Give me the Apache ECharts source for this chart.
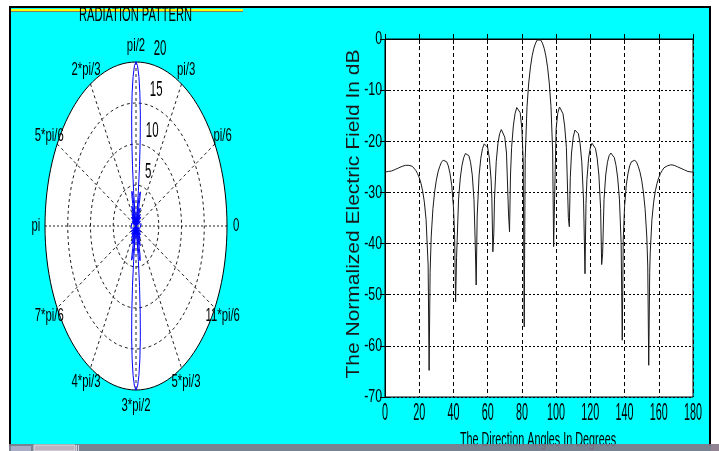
<!DOCTYPE html>
<html><head><meta charset="utf-8">
<script src="https://cdn.jsdelivr.net/npm/echarts@6/dist/echarts.min.js"></script>
<style>html,body{margin:0;padding:0;background:#fff;}#c{width:719px;height:451px;}</style>
</head><body><div id="c"></div>
<script>
// ---- data ----
const angleDeg = [
  0,1,2,3,4,5,6,7,8,9,10,11,12,13,14,15,16,17,18,19,20,21,22,23,24,25.21,25.78,26.36,
  27,28,29,30,31,32,33,34,35,36,37,38,39,40,40.68,41.25,41.83,
  43,44,45,46,47,48,49,50,51,52,52.71,53.29,53.87,
  55,56,57,58,59,60,61,62,62.45,63.03,63.6,
  64,65,66,67,68,69,70,71,72.19,72.77,73.34,
  74,75,76,77,78,79,80,80.79,81.36,81.93,
  83,84,85,86,87,88,89,90,
  91,92,93,94,95,96,97,97.98,98.55,99.12,
  100,101,102,103,104,105,106,107.15,107.72,108.29,
  109,110,111,112,113,114,115,116,116.31,116.88,117.46,
  118,119,120,121,122,123,124,125,126,126.62,127.19,
  128,129,130,131,132,133,134,135,136,137,138,138.66,139.23,
  140,141,142,143,144,145,146,147,148,149,150,151,152,153,153.56,154.13,154.7,
  155,156,157,158,159,160,161,162,163,164,165,166,167,168,169,170,171,172,173,174,175,176,177,178,179,180
];
const fieldDb = [
  -26.0,-26.0,-25.9,-25.9,-25.8,-25.6,-25.5,-25.3,-25.2,-25.0,-24.9,-24.7,-24.7,-24.6,-24.7,-24.8,-24.9,-25.2,-25.7,-26.3,-27.1,-28.2,-29.7,-31.9,-35.3,-44.2,-64.8,-45.7,
  -38.7,-33.2,-29.9,-27.6,-26.0,-24.9,-24.1,-23.7,-23.7,-24.0,-24.8,-26.3,-28.6,-32.8,-38.2,-51.4,-42.7,
  -31.3,-27.2,-24.7,-23.2,-22.4,-22.3,-22.8,-24.1,-26.6,-31.4,-39.7,-48.1,-34.6,
  -26.6,-23.3,-21.4,-20.5,-20.4,-21.2,-23.3,-27.5,-31.1,-41.6,-38.0,
  -31.3,-24.0,-20.4,-18.5,-17.7,-17.8,-19.2,-22.3,-34.2,-37.7,-26.6,
  -21.2,-17.0,-14.6,-13.4,-13.3,-14.4,-17.6,-24.0,-56.3,-23.3,
  -13.2,-8.6,-5.5,-3.3,-1.8,-0.8,-0.2,0,
  -0.2,-0.8,-1.8,-3.3,-5.5,-8.6,-13.2,-21.9,-40.6,-31.3,
  -17.6,-14.4,-13.3,-13.4,-14.6,-17.0,-21.2,-34.9,-36.7,-27.1,
  -22.3,-19.2,-17.8,-17.7,-18.5,-20.4,-24.0,-31.3,-36.0,-45.9,-32.2,
  -27.5,-23.3,-21.2,-20.4,-20.5,-21.4,-23.3,-26.6,-33.1,-44.1,-42.0,
  -31.4,-26.6,-24.1,-22.8,-22.3,-22.4,-23.2,-24.7,-27.2,-31.3,-39.8,-58.9,-39.3,
  -32.8,-28.6,-26.3,-24.8,-24.0,-23.7,-23.7,-24.1,-24.9,-26.0,-27.6,-29.9,-33.2,-38.7,-44.4,-63.8,-45.6,
  -41.8,-35.3,-31.9,-29.7,-28.2,-27.1,-26.3,-25.7,-25.2,-24.9,-24.8,-24.7,-24.6,-24.7,-24.7,-24.9,-25.0,-25.2,-25.3,-25.5,-25.6,-25.8,-25.9,-25.9,-26.0,-26.0
];
const xTicks = [0,20,40,60,80,100,120,140,160,180];
const yTicks = [0,-10,-20,-30,-40,-50,-60,-70];
const polarRings = [5,10,15,20];
const ringLabels = ['5','10','15','20'];
const spokeAngles = [0,30,60,90,120,150];
const angleLabelDeg = [0,30,60,90,120,150,180,210,240,270,300,330];
const angleLabels = ['0','pi/6','pi/3','pi/2','2*pi/3','5*pi/6','pi','7*pi/6','4*pi/3','3*pi/2','5*pi/3','11*pi/6'];
const titleText = 'RADIATION PATTERN';
const xTitle = 'The Direction Angles In Degrees';
const yTitle = 'The Normalized Electric Field In dB';

// ---- derived ----
const rMax = 20;          // peak array-factor magnitude
const FONT = '"Liberation Sans", Arial, sans-serif';
const polarPts = [];
angleDeg.forEach((d,i)=>{
  const r = rMax*Math.pow(10, fieldDb[i]/20), t = d*Math.PI/180;
  polarPts.push([r*Math.cos(t), r*Math.sin(t)]);
});
for (let i = angleDeg.length-1; i >= 0; i--) {
  const r = rMax*Math.pow(10, fieldDb[i]/20), t = angleDeg[i]*Math.PI/180;
  polarPts.push([r*Math.cos(t), -r*Math.sin(t)]);
}
const cartPts = angleDeg.map((d,i)=>[d, fieldDb[i]]);

const chart = echarts.init(document.getElementById('c'), null, {renderer:'canvas'});
const option = {
  animation:false,
  backgroundColor:'#00ffff',
  grid:[
    {left:45, top:62, width:182, height:328},
    {left:385, top:39, width:308, height:358, show:true, backgroundColor:'#fff', borderColor:'#000', borderWidth:1}
  ],
  xAxis:[
    {gridIndex:0, type:'value', min:-rMax, max:rMax, show:false},
    {gridIndex:1, type:'value', min:0, max:180, interval:20,
      axisLine:{show:true, lineStyle:{color:'#000'}}, axisTick:{inside:true, length:5, lineStyle:{color:'#000'}},
      axisLabel:{show:false}, splitLine:{show:true, lineStyle:{color:'#000', width:1, type:[4,3]}}},
    {gridIndex:1, type:'value', min:0, max:180, interval:20, position:'top',
      axisLine:{show:true, lineStyle:{color:'#000'}}, axisTick:{inside:true, length:5, lineStyle:{color:'#000'}},
      axisLabel:{show:false}, splitLine:{show:false}}
  ],
  yAxis:[
    {gridIndex:0, type:'value', min:-rMax, max:rMax, show:false},
    {gridIndex:1, type:'value', min:-70, max:0, interval:10,
      axisLine:{show:true, lineStyle:{color:'#000'}}, axisTick:{inside:true, length:5, lineStyle:{color:'#000'}},
      axisLabel:{show:false}, splitLine:{show:true, lineStyle:{color:'#000', width:1, type:[2,2]}}},
    {gridIndex:1, type:'value', min:-70, max:0, interval:10, position:'right',
      axisLine:{show:true, lineStyle:{color:'#000'}}, axisTick:{inside:true, length:5, lineStyle:{color:'#000'}},
      axisLabel:{show:false}, splitLine:{show:false}}
  ],
  series:[
    { // white polar disc
      type:'custom', xAxisIndex:0, yAxisIndex:0, data:[[rMax]], silent:true,
      renderItem(params, api){
        const c = api.coord([0,0]), s = api.size([api.value(0), api.value(0)]);
        return {type:'ellipse', shape:{cx:c[0], cy:c[1], rx:s[0], ry:s[1]}, style:{fill:'#fff', stroke:null}};
      }
    },
    { // spokes
      type:'custom', xAxisIndex:0, yAxisIndex:0, data:spokeAngles.map(a=>[a]), silent:true,
      renderItem(params, api){
        const a = api.value(0)*Math.PI/180;
        const p1 = api.coord([rMax*Math.cos(a), rMax*Math.sin(a)]);
        const p2 = api.coord([-rMax*Math.cos(a), -rMax*Math.sin(a)]);
        return {type:'line', shape:{x1:p1[0], y1:p1[1], x2:p2[0], y2:p2[1]},
          style:{stroke:'#222', lineWidth:1, lineDash: api.value(0)===0 ? [2,2] : [3,3]}};
      }
    },
    { // rings
      type:'custom', xAxisIndex:0, yAxisIndex:0, data:polarRings.map(r=>[r]), silent:true,
      renderItem(params, api){
        const r = api.value(0), c = api.coord([0,0]), s = api.size([r, r]);
        const outer = r === rMax;
        return {type:'ellipse', shape:{cx:c[0], cy:c[1], rx:s[0], ry:s[1]},
          style:{fill:'none', stroke: outer ? '#000' : '#222', lineWidth:1, lineDash: outer ? null : [3,3]}};
      }
    },
    { // ring labels
      type:'custom', xAxisIndex:0, yAxisIndex:0, data:polarRings.map(r=>[r]), silent:true,
      renderItem(params, api){
        const r = api.value(0);
        const p = api.coord([1.8 + 0.175*r, r + 1.6]);
        return {type:'text', x:p[0], y:p[1], scaleX:0.52,
          style:{text:ringLabels[params.dataIndex], font:'22px '+FONT, fill:'#000', align:'center', verticalAlign:'middle'}};
      }
    },
    { // angle labels
      type:'custom', xAxisIndex:0, yAxisIndex:0, data:angleLabelDeg.map(d=>[d]), silent:true,
      renderItem(params, api){
        const a = api.value(0)*Math.PI/180, lr = rMax*1.1;
        const p = api.coord([lr*Math.cos(a), lr*Math.sin(a)]);
        return {type:'text', x:p[0], y:p[1], scaleX:0.63,
          style:{text:angleLabels[params.dataIndex], font:'18px '+FONT, fill:'#000', align:'center', verticalAlign:'middle'}};
      }
    },
    { // polar pattern
      type:'line', xAxisIndex:0, yAxisIndex:0, data:polarPts, showSymbol:false, symbol:'none',
      lineStyle:{color:'#0000ff', width:1}, silent:true, clip:false
    },
    { // dB pattern
      type:'line', xAxisIndex:1, yAxisIndex:1, data:cartPts, showSymbol:false, symbol:'none',
      lineStyle:{color:'#1a1a1a', width:1}, silent:true
    },
    { // x tick labels
      type:'custom', xAxisIndex:1, yAxisIndex:1, data:xTicks.map(v=>[v, -70]), silent:true,
      renderItem(params, api){
        const p = api.coord([api.value(0), api.value(1)]);
        return {type:'text', x:p[0], y:p[1]+16, scaleX:0.45,
          style:{text:String(xTicks[params.dataIndex]), font:'24px '+FONT, fill:'#000', align:'center', verticalAlign:'middle'}};
      }
    },
    { // y tick labels
      type:'custom', xAxisIndex:1, yAxisIndex:1, data:yTicks.map(v=>[0, v]), silent:true,
      renderItem(params, api){
        const p = api.coord([api.value(0), api.value(1)]);
        return {type:'text', x:p[0]-3, y:p[1], scaleX:0.65,
          style:{text:String(yTicks[params.dataIndex]), font:'19px '+FONT, fill:'#000', align:'right', verticalAlign:'middle'}};
      }
    }
  ],
  graphic:[
    {type:'text', x:538, y:440, scaleX:0.54, z:50,
      style:{text:xTitle, font:'20px '+FONT, fill:'#000', align:'center', verticalAlign:'middle'}},
    {type:'text', x:354, y:214, rotation:Math.PI/2, scaleY:0.85, z:50,
      style:{text:yTitle, font:'21px '+FONT, fill:'#1a1a1a', align:'center', verticalAlign:'middle'}},
    {type:'rect', shape:{x:11, y:9, width:232, height:2}, style:{fill:'#ffff00'}, z:60},
    {type:'rect', shape:{x:11, y:11, width:232, height:1}, style:{fill:'#808060'}, z:60},
    {type:'text', x:135.5, y:26, scaleX:0.53, z:70,
      style:{text:titleText, font:'21px '+FONT, fill:'#000', align:'center', verticalAlign:'bottom'}},
    {type:'rect', shape:{x:0, y:0, width:719, height:6}, style:{fill:'#fff'}, z:100},
    {type:'rect', shape:{x:0, y:0, width:9, height:451}, style:{fill:'#fff'}, z:100},
    {type:'rect', shape:{x:711, y:0, width:8, height:451}, style:{fill:'#fff'}, z:100},
    {type:'rect', shape:{x:9, y:6, width:702, height:2}, style:{fill:'#000'}, z:101},
    {type:'rect', shape:{x:9, y:6, width:2, height:440}, style:{fill:'#000'}, z:101},
    {type:'rect', shape:{x:709, y:6, width:2, height:440}, style:{fill:'#000'}, z:101},
    {type:'rect', shape:{x:9, y:444, width:710, height:7}, style:{fill:'#857585', opacity:0.9}, z:102},
    {type:'rect', shape:{x:11, y:446, width:20, height:5}, style:{fill:'#a8acc4'}, z:103},
    {type:'rect', shape:{x:34, y:445, width:41, height:6}, style:{fill:'#bdb4c2', stroke:'#e0dce4', lineWidth:1}, z:103},
    {type:'rect', shape:{x:76, y:445, width:1, height:6}, style:{fill:'#d8d0dc'}, z:103},
    {type:'rect', shape:{x:78, y:445, width:1, height:6}, style:{fill:'#d8d0dc'}, z:103}
  ]
};
chart.setOption(option);
</script>
</body></html>
